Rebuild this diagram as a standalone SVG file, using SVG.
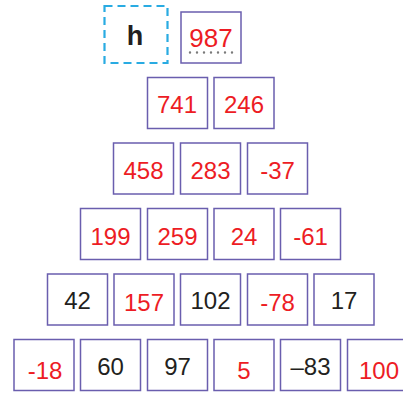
<svg xmlns="http://www.w3.org/2000/svg" width="403" height="393" viewBox="0 0 403 393">
<style>
.b{fill:#fff;stroke:#6a5eae;stroke-width:1.5}
.t{font-family:"Liberation Sans",Arial,sans-serif;font-size:24px;text-anchor:middle}
.r{fill:#ed1c24}
.k{fill:#231f20}
</style>
<rect width="403" height="393" fill="#fff"/>
<g id="h"><rect x="104.5" y="6" width="63" height="57" fill="#fff" stroke="#29abe2" stroke-width="2.2" stroke-dasharray="8,5"/><text x="135" y="45" class="t k" style="font-size:27px;font-weight:bold">h</text></g>
<g id="n987"><rect class="b" x="181" y="12" width="60" height="51"/><text x="211" y="47" class="t r" style="font-size:26px">987</text><line x1="190" y1="52.5" x2="233" y2="52.5" stroke="#7a7a7a" stroke-width="2.4" stroke-linecap="round" stroke-dasharray="0,7"/></g>
<g id="n741"><rect class="b" x="147.5" y="77.5" width="60" height="51"/><text x="177" y="113" class="t r">741</text></g>
<g id="n246"><rect class="b" x="214" y="77.5" width="60" height="51"/><text x="244" y="113" class="t r">246</text></g>
<g id="n458"><rect class="b" x="113.5" y="143" width="60" height="51"/><text x="143.5" y="178.5" class="t r">458</text></g>
<g id="n283"><rect class="b" x="180.5" y="143" width="60" height="51"/><text x="210.5" y="178.5" class="t r">283</text></g>
<g id="nm37"><rect class="b" x="247.5" y="143" width="60" height="51"/><text x="277.5" y="178.5" class="t r">-37</text></g>
<g id="n199"><rect class="b" x="80.5" y="208.5" width="60" height="51"/><text x="110.5" y="244.5" class="t r">199</text></g>
<g id="n259"><rect class="b" x="147.5" y="208.5" width="60" height="51"/><text x="177.5" y="244.5" class="t r">259</text></g>
<g id="n24"><rect class="b" x="214" y="208.5" width="60" height="51"/><text x="244" y="244.5" class="t r">24</text></g>
<g id="nm61"><rect class="b" x="280.5" y="208.5" width="60" height="51"/><text x="310.5" y="244.5" class="t r">-61</text></g>
<g id="n42"><rect class="b" x="47.5" y="274" width="60" height="51"/><text x="77.5" y="309" class="t k">42</text></g>
<g id="n157"><rect class="b" x="114" y="274" width="60" height="51"/><text x="144" y="310.5" class="t r">157</text></g>
<g id="n102"><rect class="b" x="180.5" y="274" width="60" height="51"/><text x="210.5" y="309" class="t k">102</text></g>
<g id="nm78"><rect class="b" x="247.5" y="274" width="60" height="51"/><text x="277.5" y="310.5" class="t r">-78</text></g>
<g id="n17"><rect class="b" x="314" y="274" width="60" height="51"/><text x="344" y="309" class="t k">17</text></g>
<g id="nm18"><rect class="b" x="14" y="339.5" width="60" height="51"/><text x="45" y="379" class="t r">-18</text></g>
<g id="n60"><rect class="b" x="80.5" y="339.5" width="60" height="51"/><text x="110.5" y="375" class="t k">60</text></g>
<g id="n97"><rect class="b" x="147.5" y="339.5" width="60" height="51"/><text x="177.5" y="375" class="t k">97</text></g>
<g id="n5"><rect class="b" x="214" y="339.5" width="60" height="51"/><text x="244" y="379" class="t r">5</text></g>
<g id="nm83"><rect class="b" x="280.5" y="339.5" width="60" height="51"/><text x="310.5" y="375" class="t k">–83</text></g>
<g id="n100"><rect class="b" x="347.5" y="339.5" width="60" height="51"/><text x="379" y="379" class="t r">100</text></g>
<g id="connectors"></g>
</svg>
